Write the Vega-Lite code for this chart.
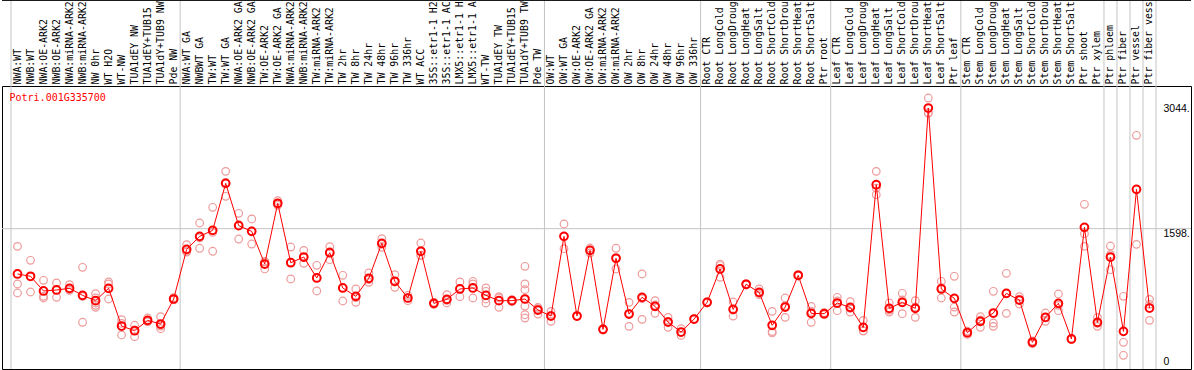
{
"$schema": "https://vega.github.io/schema/vega-lite/v6.json",
"width": 1189, "height": 283,
"autosize": {"type": "none"},
"padding": {"left": 2, "top": 86, "right": 3, "bottom": 1},
"background": "white",
"config": {"view": {"stroke": "#000000", "strokeWidth": 1}, "font": "DejaVu Sans Mono"},
"data": {"values": [
{"i":0,"sample":"NWA:WT","kind":"mean","value":1055,"gstart":1},{"i":0,"sample":"NWA:WT","kind":"rep","value":1386},{"i":0,"sample":"NWA:WT","kind":"rep","value":935},{"i":0,"sample":"NWA:WT","kind":"rep","value":827},
{"i":1,"sample":"NWB:WT","kind":"mean","value":1027},{"i":1,"sample":"NWB:WT","kind":"rep","value":1219},{"i":1,"sample":"NWB:WT","kind":"rep","value":839},{"i":1,"sample":"NWB:WT","kind":"rep","value":1023},
{"i":2,"sample":"NWA:OE-ARK2","kind":"mean","value":851},{"i":2,"sample":"NWA:OE-ARK2","kind":"rep","value":979},{"i":2,"sample":"NWA:OE-ARK2","kind":"rep","value":787},{"i":2,"sample":"NWA:OE-ARK2","kind":"rep","value":767},
{"i":3,"sample":"NWB:OE-ARK2","kind":"mean","value":863},{"i":3,"sample":"NWB:OE-ARK2","kind":"rep","value":947},{"i":3,"sample":"NWB:OE-ARK2","kind":"rep","value":775},{"i":3,"sample":"NWB:OE-ARK2","kind":"rep","value":867},
{"i":4,"sample":"NWA:miRNA-ARK2","kind":"mean","value":883},{"i":4,"sample":"NWA:miRNA-ARK2","kind":"rep","value":927},{"i":4,"sample":"NWA:miRNA-ARK2","kind":"rep","value":859},{"i":4,"sample":"NWA:miRNA-ARK2","kind":"rep","value":863},
{"i":5,"sample":"NWB:miRNA-ARK2","kind":"mean","value":799},{"i":5,"sample":"NWB:miRNA-ARK2","kind":"rep","value":1135},{"i":5,"sample":"NWB:miRNA-ARK2","kind":"rep","value":476},{"i":5,"sample":"NWB:miRNA-ARK2","kind":"rep","value":786},
{"i":6,"sample":"NW 0hr","kind":"mean","value":735},{"i":6,"sample":"NW 0hr","kind":"rep","value":819},{"i":6,"sample":"NW 0hr","kind":"rep","value":767},{"i":6,"sample":"NW 0hr","kind":"rep","value":707},{"i":6,"sample":"NW 0hr","kind":"rep","value":679},{"i":6,"sample":"NW 0hr","kind":"rep","value":655},
{"i":7,"sample":"WT H2O","kind":"mean","value":883},{"i":7,"sample":"WT H2O","kind":"rep","value":959},{"i":7,"sample":"WT H2O","kind":"rep","value":935},{"i":7,"sample":"WT H2O","kind":"rep","value":755},
{"i":8,"sample":"WT-NW","kind":"mean","value":431},{"i":8,"sample":"WT-NW","kind":"rep","value":507},{"i":8,"sample":"WT-NW","kind":"rep","value":324},{"i":8,"sample":"WT-NW","kind":"rep","value":462},
{"i":9,"sample":"TUA1dEY NW","kind":"mean","value":375},{"i":9,"sample":"TUA1dEY NW","kind":"rep","value":440},{"i":9,"sample":"TUA1dEY NW","kind":"rep","value":304},{"i":9,"sample":"TUA1dEY NW","kind":"rep","value":381},
{"i":10,"sample":"TUA1dEY+TUB15 NW","kind":"mean","value":499},{"i":10,"sample":"TUA1dEY+TUB15 NW","kind":"rep","value":527},{"i":10,"sample":"TUA1dEY+TUB15 NW","kind":"rep","value":487},{"i":10,"sample":"TUA1dEY+TUB15 NW","kind":"rep","value":483},
{"i":11,"sample":"TUA1dY+TUB9 NW","kind":"mean","value":455},{"i":11,"sample":"TUA1dY+TUB9 NW","kind":"rep","value":543},{"i":11,"sample":"TUA1dY+TUB9 NW","kind":"rep","value":399},{"i":11,"sample":"TUA1dY+TUB9 NW","kind":"rep","value":431},{"i":11,"sample":"TUA1dY+TUB9 NW","kind":"rep","value":447},
{"i":12,"sample":"Pde NW","kind":"mean","value":755},{"i":12,"sample":"Pde NW","kind":"rep","value":747},{"i":12,"sample":"Pde NW","kind":"rep","value":771},{"i":12,"sample":"Pde NW","kind":"rep","value":747},
{"i":13,"sample":"NWA:WT GA","kind":"mean","value":1350,"gstart":1},{"i":13,"sample":"NWA:WT GA","kind":"rep","value":1406},{"i":13,"sample":"NWA:WT GA","kind":"rep","value":1318},{"i":13,"sample":"NWA:WT GA","kind":"rep","value":1326},
{"i":14,"sample":"NWBWT GA","kind":"mean","value":1506},{"i":14,"sample":"NWBWT GA","kind":"rep","value":1666},{"i":14,"sample":"NWBWT GA","kind":"rep","value":1363},{"i":14,"sample":"NWBWT GA","kind":"rep","value":1489},
{"i":15,"sample":"TW:WT","kind":"mean","value":1578},{"i":15,"sample":"TW:WT","kind":"rep","value":1854},{"i":15,"sample":"TW:WT","kind":"rep","value":1327},{"i":15,"sample":"TW:WT","kind":"rep","value":1553},
{"i":16,"sample":"TW:WT GA","kind":"mean","value":2141},{"i":16,"sample":"TW:WT GA","kind":"rep","value":2285},{"i":16,"sample":"TW:WT GA","kind":"rep","value":1986},{"i":16,"sample":"TW:WT GA","kind":"rep","value":2152},
{"i":17,"sample":"NWA:OE-ARK2 GA","kind":"mean","value":1634},{"i":17,"sample":"NWA:OE-ARK2 GA","kind":"rep","value":1782},{"i":17,"sample":"NWA:OE-ARK2 GA","kind":"rep","value":1474},{"i":17,"sample":"NWA:OE-ARK2 GA","kind":"rep","value":1646},
{"i":18,"sample":"NWB:OE-ARK2 GA","kind":"mean","value":1566},{"i":18,"sample":"NWB:OE-ARK2 GA","kind":"rep","value":1714},{"i":18,"sample":"NWB:OE-ARK2 GA","kind":"rep","value":1414},{"i":18,"sample":"NWB:OE-ARK2 GA","kind":"rep","value":1570},
{"i":19,"sample":"TW:OE-ARK2","kind":"mean","value":1174},{"i":19,"sample":"TW:OE-ARK2","kind":"rep","value":1207},{"i":19,"sample":"TW:OE-ARK2","kind":"rep","value":1115},{"i":19,"sample":"TW:OE-ARK2","kind":"rep","value":1200},
{"i":20,"sample":"TW:OE-ARK2 GA","kind":"mean","value":1902},{"i":20,"sample":"TW:OE-ARK2 GA","kind":"rep","value":1933},{"i":20,"sample":"TW:OE-ARK2 GA","kind":"rep","value":1878},{"i":20,"sample":"TW:OE-ARK2 GA","kind":"rep","value":1895},
{"i":21,"sample":"NWA:miRNA-ARK2 GA","kind":"mean","value":1190},{"i":21,"sample":"NWA:miRNA-ARK2 GA","kind":"rep","value":1378},{"i":21,"sample":"NWA:miRNA-ARK2 GA","kind":"rep","value":995},{"i":21,"sample":"NWA:miRNA-ARK2 GA","kind":"rep","value":1197},
{"i":22,"sample":"NWB:miRNA-ARK2 GA","kind":"mean","value":1258},{"i":22,"sample":"NWB:miRNA-ARK2 GA","kind":"rep","value":1338},{"i":22,"sample":"NWB:miRNA-ARK2 GA","kind":"rep","value":1183},{"i":22,"sample":"NWB:miRNA-ARK2 GA","kind":"rep","value":1253},
{"i":23,"sample":"TW:miRNA-ARK2","kind":"mean","value":1007},{"i":23,"sample":"TW:miRNA-ARK2","kind":"rep","value":1159},{"i":23,"sample":"TW:miRNA-ARK2","kind":"rep","value":851},{"i":23,"sample":"TW:miRNA-ARK2","kind":"rep","value":1011},
{"i":24,"sample":"TW:miRNA-ARK2 GA","kind":"mean","value":1310},{"i":24,"sample":"TW:miRNA-ARK2 GA","kind":"rep","value":1382},{"i":24,"sample":"TW:miRNA-ARK2 GA","kind":"rep","value":1226},{"i":24,"sample":"TW:miRNA-ARK2 GA","kind":"rep","value":1322},
{"i":25,"sample":"TW 2hr","kind":"mean","value":887},{"i":25,"sample":"TW 2hr","kind":"rep","value":1039},{"i":25,"sample":"TW 2hr","kind":"rep","value":731},{"i":25,"sample":"TW 2hr","kind":"rep","value":891},
{"i":26,"sample":"TW 8hr","kind":"mean","value":787},{"i":26,"sample":"TW 8hr","kind":"rep","value":875},{"i":26,"sample":"TW 8hr","kind":"rep","value":715},{"i":26,"sample":"TW 8hr","kind":"rep","value":771},
{"i":27,"sample":"TW 24hr","kind":"mean","value":1003},{"i":27,"sample":"TW 24hr","kind":"rep","value":1067},{"i":27,"sample":"TW 24hr","kind":"rep","value":955},{"i":27,"sample":"TW 24hr","kind":"rep","value":987},
{"i":28,"sample":"TW 48hr","kind":"mean","value":1422},{"i":28,"sample":"TW 48hr","kind":"rep","value":1478},{"i":28,"sample":"TW 48hr","kind":"rep","value":1374},{"i":28,"sample":"TW 48hr","kind":"rep","value":1414},
{"i":29,"sample":"TW 96hr","kind":"mean","value":967},{"i":29,"sample":"TW 96hr","kind":"rep","value":1047},{"i":29,"sample":"TW 96hr","kind":"rep","value":895},{"i":29,"sample":"TW 96hr","kind":"rep","value":959},
{"i":30,"sample":"TW 336hr","kind":"mean","value":767},{"i":30,"sample":"TW 336hr","kind":"rep","value":799},{"i":30,"sample":"TW 336hr","kind":"rep","value":735},{"i":30,"sample":"TW 336hr","kind":"rep","value":767},
{"i":31,"sample":"WT ACC","kind":"mean","value":1327},{"i":31,"sample":"WT ACC","kind":"rep","value":1426},{"i":31,"sample":"WT ACC","kind":"rep","value":1279},{"i":31,"sample":"WT ACC","kind":"rep","value":1276},
{"i":32,"sample":"35S::etr1-1 H2O","kind":"mean","value":703},{"i":32,"sample":"35S::etr1-1 H2O","kind":"rep","value":715},{"i":32,"sample":"35S::etr1-1 H2O","kind":"rep","value":691},{"i":32,"sample":"35S::etr1-1 H2O","kind":"rep","value":703},
{"i":33,"sample":"35S::etr1-1 ACC","kind":"mean","value":751},{"i":33,"sample":"35S::etr1-1 ACC","kind":"rep","value":807},{"i":33,"sample":"35S::etr1-1 ACC","kind":"rep","value":707},{"i":33,"sample":"35S::etr1-1 ACC","kind":"rep","value":739},
{"i":34,"sample":"LMX5::etr1-1 H2O","kind":"mean","value":875},{"i":34,"sample":"LMX5::etr1-1 H2O","kind":"rep","value":959},{"i":34,"sample":"LMX5::etr1-1 H2O","kind":"rep","value":783},{"i":34,"sample":"LMX5::etr1-1 H2O","kind":"rep","value":883},
{"i":35,"sample":"LMX5::etr1-1 ACC","kind":"mean","value":887},{"i":35,"sample":"LMX5::etr1-1 ACC","kind":"rep","value":967},{"i":35,"sample":"LMX5::etr1-1 ACC","kind":"rep","value":935},{"i":35,"sample":"LMX5::etr1-1 ACC","kind":"rep","value":767},
{"i":36,"sample":"WT-TW","kind":"mean","value":799},{"i":36,"sample":"WT-TW","kind":"rep","value":887},{"i":36,"sample":"WT-TW","kind":"rep","value":847},{"i":36,"sample":"WT-TW","kind":"rep","value":707},{"i":36,"sample":"WT-TW","kind":"rep","value":755},
{"i":37,"sample":"TUA1dEY TW","kind":"mean","value":735},{"i":37,"sample":"TUA1dEY TW","kind":"rep","value":783},{"i":37,"sample":"TUA1dEY TW","kind":"rep","value":655},{"i":37,"sample":"TUA1dEY TW","kind":"rep","value":767},
{"i":38,"sample":"TUA1dEY+TUB15 TW","kind":"mean","value":735},{"i":38,"sample":"TUA1dEY+TUB15 TW","kind":"rep","value":747},{"i":38,"sample":"TUA1dEY+TUB15 TW","kind":"rep","value":723},
{"i":39,"sample":"TUA1dY+TUB9 TW","kind":"mean","value":755},{"i":39,"sample":"TUA1dY+TUB9 TW","kind":"rep","value":1147},{"i":39,"sample":"TUA1dY+TUB9 TW","kind":"rep","value":935},{"i":39,"sample":"TUA1dY+TUB9 TW","kind":"rep","value":867},{"i":39,"sample":"TUA1dY+TUB9 TW","kind":"rep","value":755},{"i":39,"sample":"TUA1dY+TUB9 TW","kind":"rep","value":671},{"i":39,"sample":"TUA1dY+TUB9 TW","kind":"rep","value":567},{"i":39,"sample":"TUA1dY+TUB9 TW","kind":"rep","value":527},
{"i":40,"sample":"Pde TW","kind":"mean","value":623},{"i":40,"sample":"Pde TW","kind":"rep","value":655},{"i":40,"sample":"Pde TW","kind":"rep","value":575},{"i":40,"sample":"Pde TW","kind":"rep","value":639},
{"i":41,"sample":"OW:WT","kind":"mean","value":551,"gstart":1},{"i":41,"sample":"OW:WT","kind":"rep","value":607},{"i":41,"sample":"OW:WT","kind":"rep","value":487},{"i":41,"sample":"OW:WT","kind":"rep","value":559},
{"i":42,"sample":"OW:WT GA","kind":"mean","value":1506},{"i":42,"sample":"OW:WT GA","kind":"rep","value":1654},{"i":42,"sample":"OW:WT GA","kind":"rep","value":1358},{"i":42,"sample":"OW:WT GA","kind":"rep","value":1506},
{"i":43,"sample":"OW:OE-ARK2","kind":"mean","value":551},{"i":43,"sample":"OW:OE-ARK2","kind":"rep","value":555},{"i":43,"sample":"OW:OE-ARK2","kind":"rep","value":547},
{"i":44,"sample":"OW:OE-ARK2 GA","kind":"mean","value":1338},{"i":44,"sample":"OW:OE-ARK2 GA","kind":"rep","value":1366},{"i":44,"sample":"OW:OE-ARK2 GA","kind":"rep","value":1306},{"i":44,"sample":"OW:OE-ARK2 GA","kind":"rep","value":1342},
{"i":45,"sample":"OW:miRNA-ARK2","kind":"mean","value":391},{"i":45,"sample":"OW:miRNA-ARK2","kind":"rep","value":399},{"i":45,"sample":"OW:miRNA-ARK2","kind":"rep","value":383},
{"i":46,"sample":"OW:miRNA-ARK2 GA","kind":"mean","value":1243},{"i":46,"sample":"OW:miRNA-ARK2 GA","kind":"rep","value":1363},{"i":46,"sample":"OW:miRNA-ARK2 GA","kind":"rep","value":1115},{"i":46,"sample":"OW:miRNA-ARK2 GA","kind":"rep","value":1251},
{"i":47,"sample":"OW 2hr","kind":"mean","value":575},{"i":47,"sample":"OW 2hr","kind":"rep","value":715},{"i":47,"sample":"OW 2hr","kind":"rep","value":427},{"i":47,"sample":"OW 2hr","kind":"rep","value":583},
{"i":48,"sample":"OW 8hr","kind":"mean","value":775},{"i":48,"sample":"OW 8hr","kind":"rep","value":1055},{"i":48,"sample":"OW 8hr","kind":"rep","value":511},{"i":48,"sample":"OW 8hr","kind":"rep","value":759},
{"i":49,"sample":"OW 24hr","kind":"mean","value":667},{"i":49,"sample":"OW 24hr","kind":"rep","value":735},{"i":49,"sample":"OW 24hr","kind":"rep","value":583},{"i":49,"sample":"OW 24hr","kind":"rep","value":683},
{"i":50,"sample":"OW 48hr","kind":"mean","value":479},{"i":50,"sample":"OW 48hr","kind":"rep","value":535},{"i":50,"sample":"OW 48hr","kind":"rep","value":415},{"i":50,"sample":"OW 48hr","kind":"rep","value":487},
{"i":51,"sample":"OW 96hr","kind":"mean","value":359},{"i":51,"sample":"OW 96hr","kind":"rep","value":399},{"i":51,"sample":"OW 96hr","kind":"rep","value":319},{"i":51,"sample":"OW 96hr","kind":"rep","value":359},
{"i":52,"sample":"OW 336hr","kind":"mean","value":515},{"i":52,"sample":"OW 336hr","kind":"rep","value":519},{"i":52,"sample":"OW 336hr","kind":"rep","value":511},
{"i":53,"sample":"Root CTR","kind":"mean","value":715,"gstart":1},{"i":53,"sample":"Root CTR","kind":"rep","value":723},{"i":53,"sample":"Root CTR","kind":"rep","value":707},
{"i":54,"sample":"Root LongCold","kind":"mean","value":1115},{"i":54,"sample":"Root LongCold","kind":"rep","value":1174},{"i":54,"sample":"Root LongCold","kind":"rep","value":1015},{"i":54,"sample":"Root LongCold","kind":"rep","value":1156},
{"i":55,"sample":"Root LongDrought","kind":"mean","value":631},{"i":55,"sample":"Root LongDrought","kind":"rep","value":719},{"i":55,"sample":"Root LongDrought","kind":"rep","value":551},{"i":55,"sample":"Root LongDrought","kind":"rep","value":623},
{"i":56,"sample":"Root LongHeat","kind":"mean","value":931},{"i":56,"sample":"Root LongHeat","kind":"rep","value":939},{"i":56,"sample":"Root LongHeat","kind":"rep","value":923},
{"i":57,"sample":"Root LongSalt","kind":"mean","value":835},{"i":57,"sample":"Root LongSalt","kind":"rep","value":875},{"i":57,"sample":"Root LongSalt","kind":"rep","value":807},{"i":57,"sample":"Root LongSalt","kind":"rep","value":823},
{"i":58,"sample":"Root ShortCold","kind":"mean","value":440},{"i":58,"sample":"Root ShortCold","kind":"rep","value":607},{"i":58,"sample":"Root ShortCold","kind":"rep","value":348},{"i":58,"sample":"Root ShortCold","kind":"rep","value":365},
{"i":59,"sample":"Root ShortDrought","kind":"mean","value":659},{"i":59,"sample":"Root ShortDrought","kind":"rep","value":767},{"i":59,"sample":"Root ShortDrought","kind":"rep","value":535},{"i":59,"sample":"Root ShortDrought","kind":"rep","value":675},
{"i":60,"sample":"Root ShortHeat","kind":"mean","value":1039},{"i":60,"sample":"Root ShortHeat","kind":"rep","value":1047},{"i":60,"sample":"Root ShortHeat","kind":"rep","value":1031},
{"i":61,"sample":"Root ShortSalt","kind":"mean","value":583},{"i":61,"sample":"Root ShortSalt","kind":"rep","value":667},{"i":61,"sample":"Root ShortSalt","kind":"rep","value":476},{"i":61,"sample":"Root ShortSalt","kind":"rep","value":606},
{"i":62,"sample":"Ptr root","kind":"mean","value":579},{"i":62,"sample":"Ptr root","kind":"rep","value":591},{"i":62,"sample":"Ptr root","kind":"rep","value":567},
{"i":63,"sample":"Leaf CTR","kind":"mean","value":707,"gstart":1},{"i":63,"sample":"Leaf CTR","kind":"rep","value":775},{"i":63,"sample":"Leaf CTR","kind":"rep","value":615},{"i":63,"sample":"Leaf CTR","kind":"rep","value":731},
{"i":64,"sample":"Leaf LongCold","kind":"mean","value":655},{"i":64,"sample":"Leaf LongCold","kind":"rep","value":723},{"i":64,"sample":"Leaf LongCold","kind":"rep","value":599},{"i":64,"sample":"Leaf LongCold","kind":"rep","value":643},
{"i":65,"sample":"Leaf LongDrought","kind":"mean","value":415},{"i":65,"sample":"Leaf LongDrought","kind":"rep","value":499},{"i":65,"sample":"Leaf LongDrought","kind":"rep","value":375},{"i":65,"sample":"Leaf LongDrought","kind":"rep","value":371},
{"i":66,"sample":"Leaf LongHeat","kind":"mean","value":2125},{"i":66,"sample":"Leaf LongHeat","kind":"rep","value":2285},{"i":66,"sample":"Leaf LongHeat","kind":"rep","value":2005},{"i":66,"sample":"Leaf LongHeat","kind":"rep","value":2085},
{"i":67,"sample":"Leaf LongSalt","kind":"mean","value":643},{"i":67,"sample":"Leaf LongSalt","kind":"rep","value":707},{"i":67,"sample":"Leaf LongSalt","kind":"rep","value":599},{"i":67,"sample":"Leaf LongSalt","kind":"rep","value":623},
{"i":68,"sample":"Leaf ShortCold","kind":"mean","value":715},{"i":68,"sample":"Leaf ShortCold","kind":"rep","value":823},{"i":68,"sample":"Leaf ShortCold","kind":"rep","value":579},{"i":68,"sample":"Leaf ShortCold","kind":"rep","value":743},
{"i":69,"sample":"Leaf ShortDrought","kind":"mean","value":643},{"i":69,"sample":"Leaf ShortDrought","kind":"rep","value":735},{"i":69,"sample":"Leaf ShortDrought","kind":"rep","value":535},{"i":69,"sample":"Leaf ShortDrought","kind":"rep","value":659},
{"i":70,"sample":"Leaf ShortHeat","kind":"mean","value":3044},{"i":70,"sample":"Leaf ShortHeat","kind":"rep","value":3164},{"i":70,"sample":"Leaf ShortHeat","kind":"rep","value":2984},{"i":70,"sample":"Leaf ShortHeat","kind":"rep","value":2984},
{"i":71,"sample":"Leaf ShortSalt","kind":"mean","value":875},{"i":71,"sample":"Leaf ShortSalt","kind":"rep","value":967},{"i":71,"sample":"Leaf ShortSalt","kind":"rep","value":767},{"i":71,"sample":"Leaf ShortSalt","kind":"rep","value":891},
{"i":72,"sample":"Ptr leaf","kind":"mean","value":763},{"i":72,"sample":"Ptr leaf","kind":"rep","value":1027},{"i":72,"sample":"Ptr leaf","kind":"rep","value":659},{"i":72,"sample":"Ptr leaf","kind":"rep","value":599},
{"i":73,"sample":"Stem CTR","kind":"mean","value":351,"gstart":1},{"i":73,"sample":"Stem CTR","kind":"rep","value":371},{"i":73,"sample":"Stem CTR","kind":"rep","value":331},
{"i":74,"sample":"Stem LongCold","kind":"mean","value":487},{"i":74,"sample":"Stem LongCold","kind":"rep","value":543},{"i":74,"sample":"Stem LongCold","kind":"rep","value":415},{"i":74,"sample":"Stem LongCold","kind":"rep","value":503},
{"i":75,"sample":"Stem LongDrought","kind":"mean","value":587},{"i":75,"sample":"Stem LongDrought","kind":"rep","value":847},{"i":75,"sample":"Stem LongDrought","kind":"rep","value":467},{"i":75,"sample":"Stem LongDrought","kind":"rep","value":427},
{"i":76,"sample":"Stem LongHeat","kind":"mean","value":823},{"i":76,"sample":"Stem LongHeat","kind":"rep","value":1063},{"i":76,"sample":"Stem LongHeat","kind":"rep","value":583},{"i":76,"sample":"Stem LongHeat","kind":"rep","value":823},
{"i":77,"sample":"Stem LongSalt","kind":"mean","value":743},{"i":77,"sample":"Stem LongSalt","kind":"rep","value":783},{"i":77,"sample":"Stem LongSalt","kind":"rep","value":695},{"i":77,"sample":"Stem LongSalt","kind":"rep","value":751},
{"i":78,"sample":"Stem ShortCold","kind":"mean","value":236},{"i":78,"sample":"Stem ShortCold","kind":"rep","value":252},{"i":78,"sample":"Stem ShortCold","kind":"rep","value":220},
{"i":79,"sample":"Stem ShortDrought","kind":"mean","value":535},{"i":79,"sample":"Stem ShortDrought","kind":"rep","value":587},{"i":79,"sample":"Stem ShortDrought","kind":"rep","value":487},{"i":79,"sample":"Stem ShortDrought","kind":"rep","value":531},
{"i":80,"sample":"Stem ShortHeat","kind":"mean","value":703},{"i":80,"sample":"Stem ShortHeat","kind":"rep","value":815},{"i":80,"sample":"Stem ShortHeat","kind":"rep","value":615},{"i":80,"sample":"Stem ShortHeat","kind":"rep","value":679},
{"i":81,"sample":"Stem ShortSalt","kind":"mean","value":276},{"i":81,"sample":"Stem ShortSalt","kind":"rep","value":280},{"i":81,"sample":"Stem ShortSalt","kind":"rep","value":272},
{"i":82,"sample":"Ptr shoot","kind":"mean","value":1614},{"i":82,"sample":"Ptr shoot","kind":"rep","value":1890},{"i":82,"sample":"Ptr shoot","kind":"rep","value":1538},{"i":82,"sample":"Ptr shoot","kind":"rep","value":1386},
{"i":83,"sample":"Ptr xylem","kind":"mean","value":475},{"i":83,"sample":"Ptr xylem","kind":"rep","value":535},{"i":83,"sample":"Ptr xylem","kind":"rep","value":427},{"i":83,"sample":"Ptr xylem","kind":"rep","value":463},
{"i":84,"sample":"Ptr phloem","kind":"mean","value":1258,"gstart":1},{"i":84,"sample":"Ptr phloem","kind":"rep","value":1390},{"i":84,"sample":"Ptr phloem","kind":"rep","value":1286},{"i":84,"sample":"Ptr phloem","kind":"rep","value":1106},
{"i":85,"sample":"Ptr fiber","kind":"mean","value":367,"gstart":1},{"i":85,"sample":"Ptr fiber","kind":"rep","value":787},{"i":85,"sample":"Ptr fiber","kind":"rep","value":236},{"i":85,"sample":"Ptr fiber","kind":"rep","value":80},
{"i":86,"sample":"Ptr vessel","kind":"mean","value":2069,"gstart":1},{"i":86,"sample":"Ptr vessel","kind":"rep","value":2717},{"i":86,"sample":"Ptr vessel","kind":"rep","value":1410},
{"i":87,"sample":"Ptr fiber vessel","kind":"mean","value":647,"gstart":1,"gend":1},{"i":87,"sample":"Ptr fiber vessel","kind":"rep","value":751},{"i":87,"sample":"Ptr fiber vessel","kind":"rep","value":499},{"i":87,"sample":"Ptr fiber vessel","kind":"rep","value":691}
]},
"encoding": {
  "x": {"field": "sample", "type": "nominal", "sort": {"field": "i", "op": "min"},
        "scale": {"type": "band", "range": [9, 1154], "paddingInner": 0, "paddingOuter": 0},
        "axis": {"orient": "top", "title": null, "labelAngle": -90, "labelAlign": "left", "labelBaseline": "middle", "labelPadding": 2, "ticks": false, "domain": false, "grid": false, "labelFont": "DejaVu Sans Mono", "labelFontSize": 9.9, "labelColor": "#000000", "labelOverlap": false, "labelLimit": 300, "labelExpr": "substring(datum.label, 0, 14)"}},
  "y": {"field": "value", "type": "quantitative", "scale": {"domain": [-84, 3308], "nice": false, "zero": false},
        "axis": {"orient": "right", "offset": -28, "values": [0, 1598, 3044], "title": null, "ticks": false, "domain": false, "grid": false, "labelPadding": 0, "labelAlign": "left", "labelBaseline": {"condition": {"test": "datum.value === 1598", "value": "top"}, "value": "middle"}, "labelFont": "Liberation Sans", "labelFontSize": 10.5, "labelColor": "#000000", "format": "d", "labelExpr": "datum.value === 0 ? '0' : datum.label + '.'", "labelOverlap": false}}
},
"layer": [
{"mark": {"type": "rule", "color": "#c4c4c4", "strokeWidth": 1},
 "transform": [{"filter": "datum.gstart === 1"}],
 "encoding": {
  "x": {"field": "sample", "type": "nominal", "sort": {"field": "i", "op": "min"}, "bandPosition": 0},
  "y": {"datum": 4400, "type": "quantitative"},
  "y2": {"datum": -84}}},
{"mark": {"type": "rule", "color": "#c4c4c4", "strokeWidth": 1},
 "transform": [{"filter": "datum.gend === 1"}],
 "encoding": {
  "x": {"field": "sample", "type": "nominal", "sort": {"field": "i", "op": "min"}, "bandPosition": 1},
  "y": {"datum": 4400, "type": "quantitative"},
  "y2": {"datum": -84}}},
{"transform": [{"filter": "datum.gend === 1"}],
 "mark": {"type": "rule", "color": "#c4c4c4", "strokeWidth": 1},
 "encoding": {"x": null, "y": {"datum": 1598, "type": "quantitative"}}},
{"transform": [{"filter": "datum.gend === 1"}],
 "mark": {"type": "rule", "color": "#000000", "strokeWidth": 1},
 "encoding": {"x": null, "y": {"datum": 4334, "type": "quantitative"}}},
{"mark": {"type": "point", "shape": "circle", "filled": false, "stroke": "#ee9a9a", "strokeWidth": 1.2, "size": 58, "opacity": 1},
 "transform": [{"filter": "datum.kind === 'rep'"}]},
{"mark": {"type": "line", "color": "#ff0000", "strokeWidth": 1},
 "transform": [{"filter": "datum.kind === 'mean'"}],
 "encoding": {"order": {"field": "i", "type": "quantitative"}}},
{"mark": {"type": "point", "shape": "circle", "filled": false, "stroke": "#ff0000", "strokeWidth": 2, "size": 60, "opacity": 1},
 "transform": [{"filter": "datum.kind === 'mean'"}]},
{"transform": [{"filter": "datum.i === 0 && datum.kind === 'mean'"}],
 "mark": {"type": "text", "align": "left", "baseline": "top", "dx": -8, "font": "DejaVu Sans Mono", "fontSize": 10, "color": "#ff0000", "text": "Potri.001G335700"},
 "encoding": {
  "y": {"datum": 3224, "type": "quantitative"}}}
]
}
